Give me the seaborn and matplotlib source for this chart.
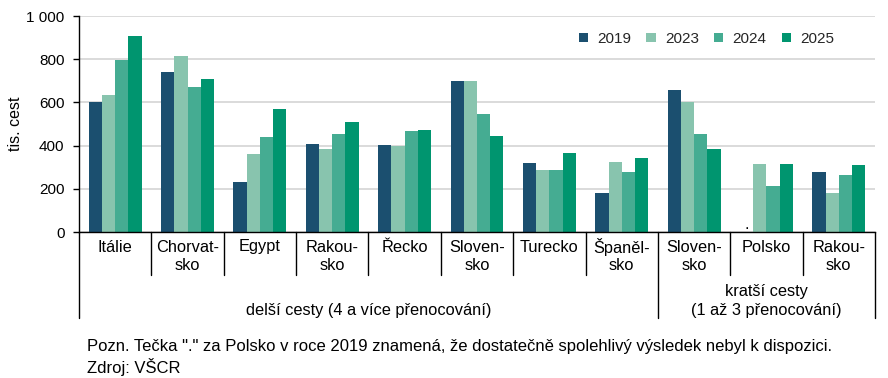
import numpy as np
import pandas as pd
import matplotlib
matplotlib.use("Agg")
import matplotlib.pyplot as plt
import seaborn as sns
from matplotlib.patches import Patch

categories = ["Itálie", "Chorvat-\nsko", "Egypt", "Rakou-\nsko", "Řecko", "Sloven-\nsko",
              "Turecko", "Španěl-\nsko", "Sloven-\nsko", "Polsko", "Rakou-\nsko"]
years = ["2019", "2023", "2024", "2025"]
v2019 = [603, 739, 231, 407, 404, 698, 321, 182, 659, np.nan, 279]
v2023 = [634, 813, 360, 383, 398, 698, 285, 326, 600, 316, 179]
v2024 = [796, 673, 438, 452, 466, 546, 287, 278, 452, 215, 262]
v2025 = [906, 710, 568, 511, 472, 446, 366, 341, 383, 316, 309]
groups = ["delší cesty (4 a více přenocování)", "kratší cesty\n(1 až 3 přenocování)"]
group_sizes = [8, 3]
yticks = [0, 200, 400, 600, 800, 1000]
ytick_labels = ["0", "200", "400", "600", "800", "1 000"]
note = 'Pozn. Tečka "." za Polsko v roce 2019 znamená, že dostatečně spolehlivý výsledek nebyl k dispozici.'
source = "Zdroj: VŠCR"
colors = ["#1b4f6f", "#88c4ae", "#45ac92", "#00956f"]

sns.set_theme(style="white")
plt.rcParams["font.family"] = ["Liberation Sans", "DejaVu Sans"]
FS_TICK = 11
FS_LEG = 11
FS_CAT = 11.8
FS_NOTE = 12
FS_YLAB = 11.5

ids = [f"c{i}" for i in range(len(categories))]
rows = []
for yr, vals in zip(years, [v2019, v2023, v2024, v2025]):
    for cid, v in zip(ids, vals):
        rows.append({"cat": cid, "year": yr, "value": v})
df = pd.DataFrame(rows)

W, H = 888, 378
fig = plt.figure(figsize=(W / 100, H / 100), dpi=100)
ax_l, ax_r, ax_t, ax_b = 79, 875, 16, 232
ax = fig.add_axes([ax_l / W, 1 - ax_b / H, (ax_r - ax_l) / W, (ax_b - ax_t) / H])

bw = 0.73
sns.barplot(data=df, x="cat", y="value", hue="year", order=ids, hue_order=years,
            palette=colors, width=bw, linewidth=0, saturation=1, ax=ax, legend=False)

ax.set_xlim(-0.5, len(categories) - 0.5)
ax.set_ylim(0, 1000)
ax.set_yticks(yticks)
ax.set_yticklabels(ytick_labels, fontsize=FS_TICK, color="black")
ax.yaxis.grid(True, color="#d4d4d4", linewidth=1.2)
ax.set_axisbelow(True)
ax.set_xticks([])
ax.set_xlabel("")
ax.set_ylabel("tis. cest", fontsize=FS_YLAB, color="black", labelpad=2)
for s in ["top", "right"]:
    ax.spines[s].set_visible(False)
for s in ["left", "bottom"]:
    ax.spines[s].set_color("black")
    ax.spines[s].set_linewidth(1.0)
ax.tick_params(axis="y", left=True, length=4.5, width=1, color="black", pad=6)

# missing value marker for Polsko 2019
pol = categories.index("Polsko")
x_dot = pol - bw / 2 + bw / 8
ax.text(x_dot, 0, ".", ha="center", va="bottom", fontsize=FS_CAT, color="black")

# category axis labels and separators
tr = ax.get_xaxis_transform()
def fy(px):
    return (ax_b - px) / (ax_b - ax_t)

for i, lab in enumerate(categories):
    for k, line in enumerate(lab.split("\n")):
        ax.text(i, fy(247 + 18.5 * k), line, transform=tr, ha="center", va="center",
                fontsize=FS_CAT, color="black")

bounds = np.cumsum([0] + group_sizes) - 0.5
for b in np.arange(-0.5, len(categories), 1.0):
    end = 318 if np.any(np.isclose(bounds, b)) else 275
    ax.plot([b, b], [0, fy(end)], transform=tr, color="black", lw=1.0, clip_on=False)

for g, (name, lo, hi) in enumerate(zip(groups, bounds[:-1], bounds[1:])):
    lines = name.split("\n")
    n = len(lines)
    for k, line in enumerate(lines):
        ypx = 310 - 18.5 * (n - 1 - k)
        ax.text((lo + hi) / 2, fy(ypx), line, transform=tr, ha="center", va="center",
                fontsize=FS_CAT, color="black")

handles = [Patch(facecolor=c, edgecolor="none", label=y) for c, y in zip(colors, years)]
ax.legend(handles=handles, loc="center right", bbox_to_anchor=(834 / W, 1 - 39 / H),
          bbox_transform=fig.transFigure, ncol=4, frameon=False, fontsize=FS_LEG,
          borderpad=0, borderaxespad=0,
          handlelength=0.6, handleheight=0.6, handletextpad=0.6, columnspacing=1.0)

fig.text(87 / W, 1 - 347 / H, note, ha="left", va="center", fontsize=FS_NOTE, color="black")
fig.text(87 / W, 1 - 367 / H, source, ha="left", va="center", fontsize=FS_NOTE, color="black")

fig.savefig("out.png", dpi=100)
